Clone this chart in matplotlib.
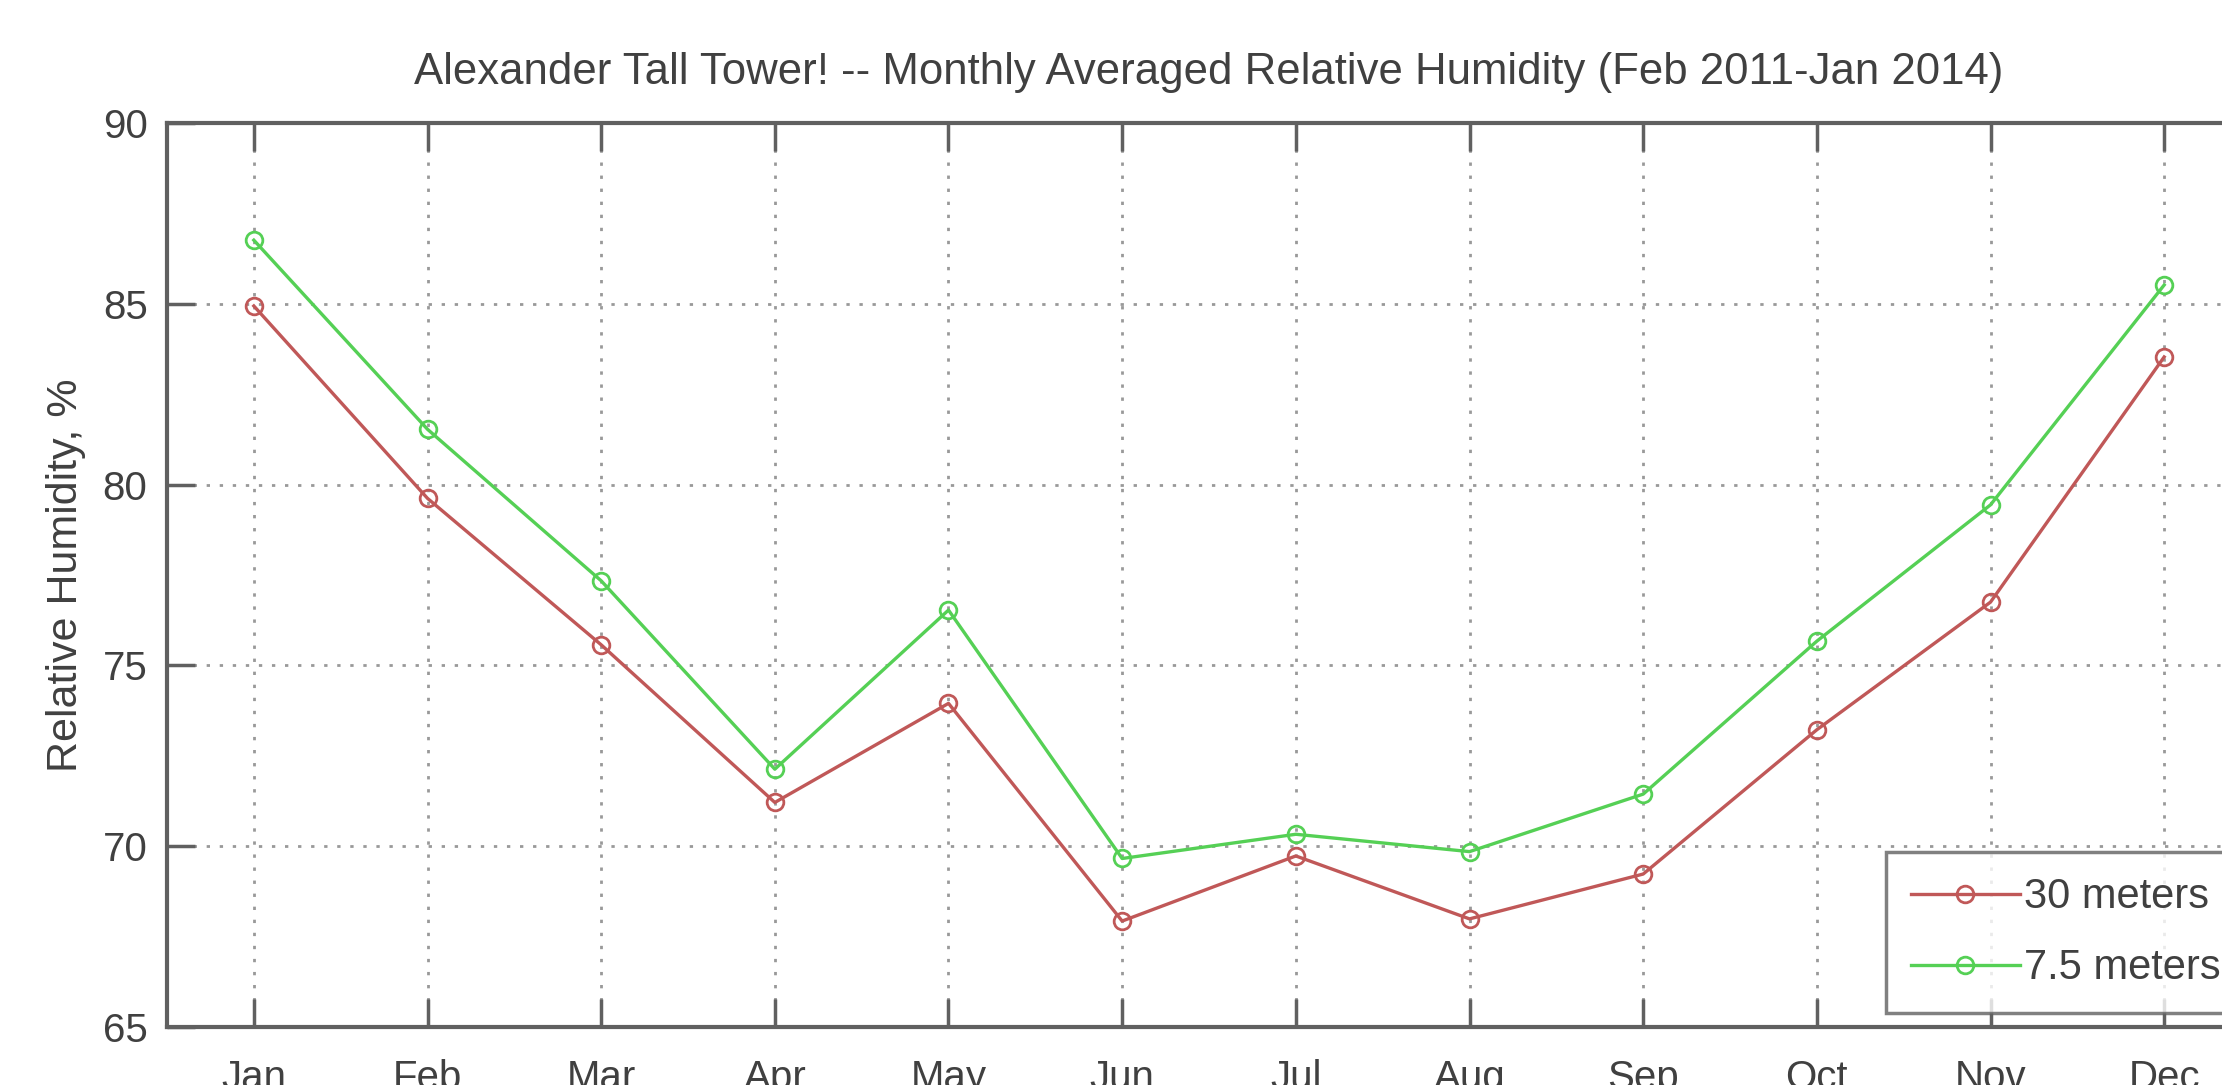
import matplotlib
matplotlib.use("Agg")
import matplotlib.pyplot as plt

months = ["Jan", "Feb", "Mar", "Apr", "May", "Jun", "Jul", "Aug", "Sep", "Oct", "Nov", "Dec"]
rh_30m = [84.94, 79.62, 75.57, 71.21, 73.95, 67.93, 69.73, 67.99, 69.23, 73.22, 76.75, 83.53]
rh_7_5m = [86.76, 81.53, 77.34, 72.13, 76.53, 69.66, 70.33, 69.85, 71.44, 75.67, 79.44, 85.52]
yticks = [65, 70, 75, 80, 85, 90]

plt.rcParams['font.family'] = ['Liberation Sans', 'DejaVu Sans']
txt = '#404040'
edge = '#606060'

fig = plt.figure(figsize=(22.22, 10.85), dpi=100)
ax = fig.add_axes([167/2222, 1 - 1027/1085, (2251-167)/2222, (1027-123)/1085])

x = list(range(1, 13))
ax.plot(x, rh_30m, color='#c05858', lw=2.4, marker='o', ms=12, mfc='none', mew=2, label='30 meters')
ax.plot(x, rh_7_5m, color='#55d055', lw=2.4, marker='o', ms=12, mfc='none', mew=2, label='7.5 meters')

ax.set_xlim(0.5, 12.5)
ax.set_ylim(65, 90)
ax.set_xticks(x)
ax.set_xticklabels(months)
ax.set_yticks(yticks)
ax.grid(True, linestyle=(0, (1.2, 3.5)), color='#999999', lw=2)
ax.tick_params(direction='in', length=20, width=2.5, color=edge, labelsize=29, labelcolor=txt,
               top=True, right=True, pad=14)
ax.tick_params(axis='x', pad=23)
for s in ax.spines.values():
    s.set_color(edge)
    s.set_linewidth(3)

ax.set_ylabel('Relative Humidity, %', fontsize=31, color=txt, labelpad=12)
ax.set_title('Alexander Tall Tower! -- Monthly Averaged Relative Humidity (Feb 2011-Jan 2014)',
             fontsize=31.5, color=txt, pad=28)

leg = ax.legend(loc='lower left', bbox_to_anchor=(0.825, 0.015), fontsize=30, frameon=True,
                fancybox=False, edgecolor=edge, handlelength=2.6, handletextpad=0.1,
                borderpad=0.6, labelspacing=0.75, borderaxespad=0)
leg.get_frame().set_linewidth(2.5)
for t in leg.get_texts():
    t.set_color(txt)

fig.savefig('out.png', dpi=100)
